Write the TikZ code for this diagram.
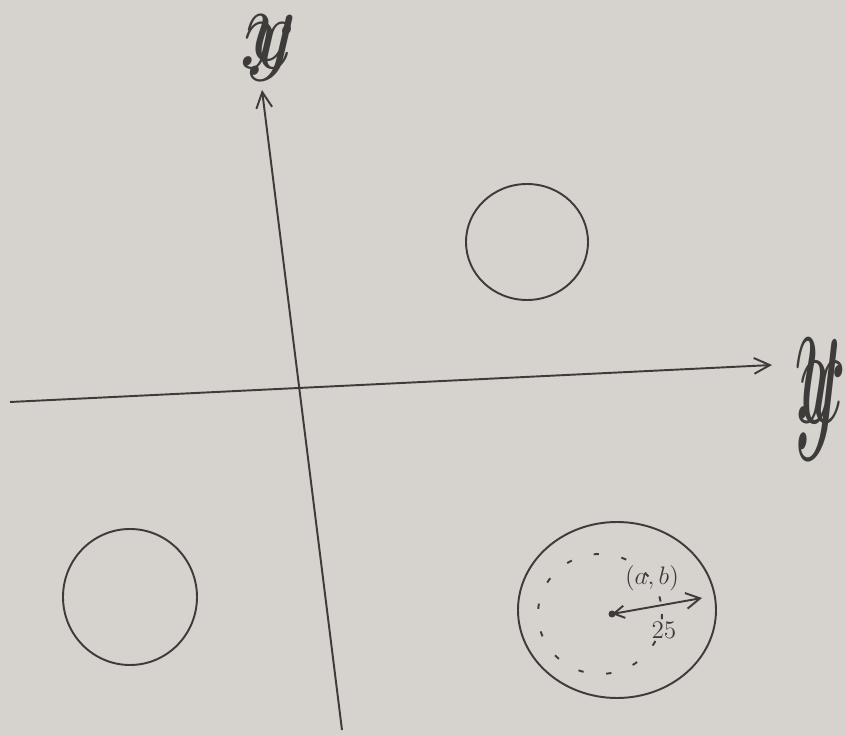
\documentclass[tikz,border=0pt]{standalone}
\usetikzlibrary{calc, arrows.meta, positioning}
\definecolor{carta}{RGB}{214,210,206}
\definecolor{inchiostro}{RGB}{62,60,58}
\begin{document}
\begin{tikzpicture}[x=0.02cm, y=-0.02cm, line width=1.1pt, draw=inchiostro, inchiostro,
    asse/.style={-{Straight Barb[length=9pt, width=9pt]}},
    etichetta/.style={inner sep=0pt}]

        % ==========================================
        % SFONDO
        % ==========================================
        \fill[carta] (0,0) rectangle (846,736);
        \useasboundingbox (0,0) rectangle (846,736);

        % ==========================================
        % ASSI CARTESIANI
        % ==========================================
        \coordinate (xsx) at (10,402);
        \coordinate (xdx) at (772,365);
        \coordinate (ygiu) at (342,730);
        \coordinate (ysu) at (262,90);

        % Asse orizzontale
        \draw[asse] (xsx) -- (xdx);
        % Asse verticale
        \draw[asse] (ygiu) -- (ysu);

        % Etichette degli assi (lettere riscritte una sull'altra)
        \node[etichetta, xscale=5.5, yscale=6] (ly) at (271,48) {$y$};
        \node[etichetta, xscale=5.5, yscale=6] (lx) at (268,46) {$x$};
        \node[etichetta, xscale=5, yscale=11] (ry) at (818,400) {$y$};
        \node[etichetta, xscale=5, yscale=8] (rx) at (822,392) {$x$};

        % ==========================================
        % CERCHI
        % ==========================================
        \draw (527,242) ellipse [x radius=61, y radius=58];
        \draw (130,597) ellipse [x radius=67, y radius=68];
        \draw (617,610) ellipse [x radius=99, y radius=88];

        % Circonferenza interna tratteggiata
        \draw[dash pattern=on 3pt off 13pt] (600,614) ellipse [x radius=62, y radius=60];

        % ==========================================
        % CENTRO E RAGGIO
        % ==========================================
        \fill (612,614) circle [radius=3.5];
        \coordinate (centro) at (612,614);
        \coordinate (bordo) at (702,598);
        \draw[{Straight Barb[length=6pt, width=7pt]}-{Straight Barb[length=8pt, width=9pt]}] (centro) -- (bordo);
        \node[font=\Large] (ab) at (652,578) {$(a,b)$};
        \node[font=\Large] (raggio) at (664,630) {$25$};

    \end{tikzpicture}
\end{document}
